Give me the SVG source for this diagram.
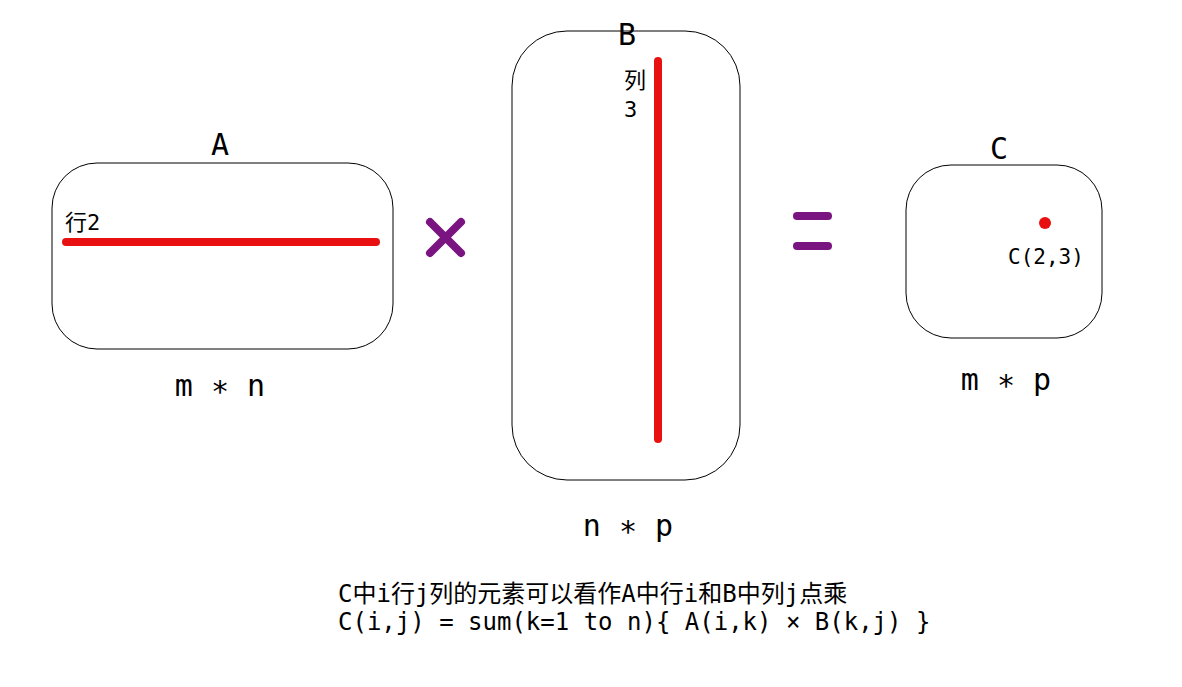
<svg xmlns="http://www.w3.org/2000/svg" width="1182" height="687" viewBox="0 0 1182 687">
<style>
.box{fill:#fff;stroke:#000;stroke-width:1}
.red{stroke:#e81010;stroke-width:8;stroke-linecap:round}
.pur{stroke:#7a1480;stroke-width:8;stroke-linecap:round}
text{font-family:"DejaVu Sans Mono","Noto Sans CJK SC",monospace;fill:#000}
</style>
<rect width="1182" height="687" fill="#fff"/>
<g id="A">
<rect class="box" x="52" y="163" width="341" height="186" rx="45"/>
<text x="220" y="155" font-size="30" text-anchor="middle">A</text>
<line class="red" x1="66" y1="242" x2="376" y2="242"/>
<text x="65" y="230" font-size="22">行2</text>
<text x="220" y="396" font-size="30" text-anchor="middle">m ∗ n</text>
</g>
<g id="B">
<rect class="box" x="512" y="31" width="228" height="449" rx="55"/>
<text x="627" y="45" font-size="30" text-anchor="middle">B</text>
<line class="red" x1="658" y1="61" x2="658" y2="439"/>
<text x="624" y="88" font-size="22">列</text>
<text x="624" y="117" font-size="22">3</text>
<text x="628" y="536" font-size="30" text-anchor="middle">n ∗ p</text>
</g>
<g id="C">
<rect class="box" x="906" y="165" width="196" height="173" rx="45"/>
<text x="999" y="159" font-size="30" text-anchor="middle">C</text>
<circle cx="1045" cy="223" r="6" fill="#e81010"/>
<text x="1008" y="264" font-size="21">C(2,3)</text>
<text x="1006" y="390" font-size="30" text-anchor="middle">m ∗ p</text>
</g>
<g id="connectors">
<line class="pur" x1="430" y1="222" x2="461" y2="253"/>
<line class="pur" x1="461" y1="222" x2="430" y2="253"/>
<line class="pur" x1="797" y1="216" x2="828" y2="216"/>
<line class="pur" x1="797" y1="246" x2="828" y2="246"/>
</g>
<text x="338" y="602" font-size="24">C中i行j列的元素可以看作A中行i和B中列j点乘</text>
<text x="338" y="630" font-size="24">C(i,j) = sum(k=1 to n){ A(i,k) × B(k,j) }</text>
</svg>
